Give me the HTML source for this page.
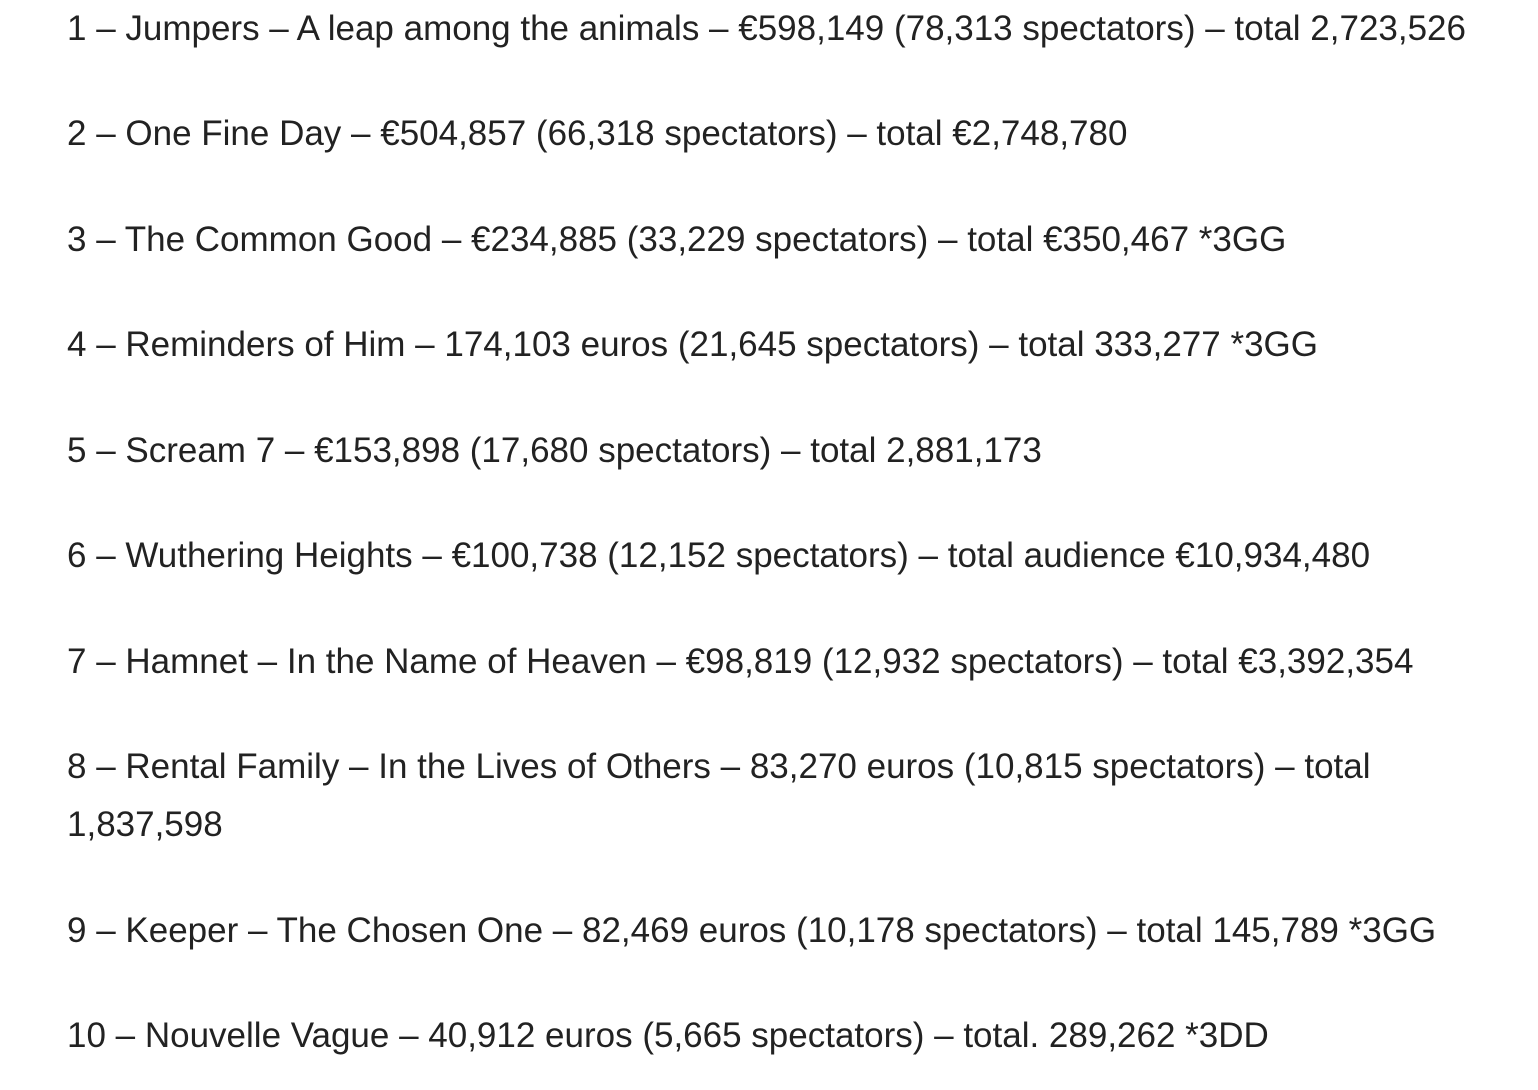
<!DOCTYPE html>
<html><head><meta charset="utf-8"><style>
html,body{margin:0;padding:0;background:#fff;width:1538px;height:1090px;overflow:hidden}
.l{position:absolute;left:67px;white-space:nowrap;font-family:"Liberation Sans","DejaVu Sans",sans-serif;font-size:35px;color:#222;line-height:40px}
</style></head><body>
<div class="l" style="top:9px">1 – Jumpers – A leap among the animals – €598,149 (78,313 spectators) – total 2,723,526</div>
<div class="l" style="top:114px">2 – One Fine Day – €504,857 (66,318 spectators) – total €2,748,780</div>
<div class="l" style="top:220px">3 – The Common Good – €234,885 (33,229 spectators) – total €350,467 *3GG</div>
<div class="l" style="top:325px">4 – Reminders of Him – 174,103 euros (21,645 spectators) – total 333,277 *3GG</div>
<div class="l" style="top:431px">5 – Scream 7 – €153,898 (17,680 spectators) – total 2,881,173</div>
<div class="l" style="top:536px">6 – Wuthering Heights – €100,738 (12,152 spectators) – total audience €10,934,480</div>
<div class="l" style="top:642px">7 – Hamnet – In the Name of Heaven – €98,819 (12,932 spectators) – total €3,392,354</div>
<div class="l" style="top:747px">8 – Rental Family – In the Lives of Others – 83,270 euros (10,815 spectators) – total</div>
<div class="l" style="top:805px">1,837,598</div>
<div class="l" style="top:911px">9 – Keeper – The Chosen One – 82,469 euros (10,178 spectators) – total 145,789 *3GG</div>
<div class="l" style="top:1016px">10 – Nouvelle Vague – 40,912 euros (5,665 spectators) – total. 289,262 *3DD</div>
</body></html>
